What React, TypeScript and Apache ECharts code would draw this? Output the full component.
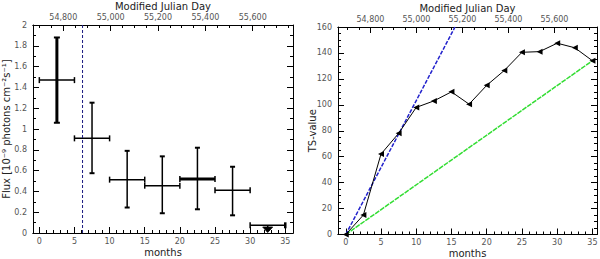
import React, { useEffect, useRef } from "react";
import * as echarts from "echarts";

// ---- Left panel: flux light curve (months) ----
const binStart = [0, 5, 10, 15, 20, 25];
const binEnd = [5, 10, 15, 20, 25, 30];
const flux = [1.47, 0.91, 0.513, 0.455, 0.52, 0.41];
const fluxLow = [1.06, 0.575, 0.245, 0.19, 0.228, 0.17];
const fluxHigh = [1.88, 1.253, 0.79, 0.737, 0.82, 0.637];
const ulStart = [30];
const ulEnd = [35];
const ulValue = [0.074];
const markerMonth = [6.15];

// ---- Right panel: cumulative TS ----
const tsMonths = [0, 2.5, 5, 7.5, 10, 12.5, 15, 17.5, 20, 22.5, 25, 27.5, 30, 32.5, 35];
const tsValues = [0, 15, 62, 78, 98, 103, 110, 100.5, 115, 126.5, 140.5, 141, 147.5, 144, 134];
const blueFitMonths = [0, 15.5];
const blueFitTs = [0, 160];
const greenFitMonths = [0, 35];
const greenFitTs = [0, 134];

// ---- Axis tick labels ----
const monthTicks = [0, 5, 10, 15, 20, 25, 30, 35];
const mjdTicks = [54800, 55000, 55200, 55400, 55600];

// styles (not data)
const vBarWidths = [3, 1.5, 1.5, 1.5, 1.5, 1.5];
const hBarWidths = [1.5, 1.5, 1.5, 1.5, 3, 1.5];

const FONT = "DejaVu Sans";
const LABEL = { color: "#555", fontSize: 8, fontFamily: FONT };
const NAME = { color: "#222", fontSize: 10, fontFamily: FONT };
const LINE = { show: true, onZero: false, lineStyle: { color: "#000", width: 1 } };

const range = (a: number, b: number, s: number) => {
  const out: number[] = [];
  for (let v = a; v <= b + 1e-9; v += s) out.push(v);
  return out;
};
const fmtMjd = (v: number) => {
  const s = String(Math.round(v));
  return s.slice(0, s.length - 3) + "," + s.slice(s.length - 3);
};

function xAxesFor(grid: number, min: number, max: number, mjdMin: number, mjdMax: number) {
  return [
    {
      type: "value", gridIndex: grid, position: "bottom", min, max,
      name: "months", nameLocation: "middle", nameGap: 14, nameTextStyle: NAME, nameMoveOverlap: false,
      axisLine: LINE,
      axisTick: { inside: true, length: 6, customValues: monthTicks, lineStyle: { color: "#000" } },
      axisLabel: { ...LABEL, margin: 4, customValues: monthTicks },
      splitLine: { show: false },
    },
    {
      type: "value", gridIndex: grid, position: "bottom", min, max,
      axisLine: LINE,
      axisTick: { inside: true, length: 3, customValues: range(0, 35, 1), lineStyle: { color: "#000" } },
      axisLabel: { show: false, customValues: [] },
      splitLine: { show: false },
    },
    {
      type: "value", gridIndex: grid, position: "top", min: mjdMin, max: mjdMax,
      name: "Modified Julian Day", nameLocation: "middle", nameGap: 14, nameTextStyle: NAME, nameMoveOverlap: false,
      axisLine: LINE,
      axisTick: { inside: true, length: 6, customValues: mjdTicks, lineStyle: { color: "#000" } },
      axisLabel: { ...LABEL, margin: 4, customValues: mjdTicks, formatter: fmtMjd },
      splitLine: { show: false },
    },
    {
      type: "value", gridIndex: grid, position: "top", min: mjdMin, max: mjdMax,
      axisLine: LINE,
      axisTick: { inside: true, length: 3, customValues: range(54700, 55750, 50), lineStyle: { color: "#000" } },
      axisLabel: { show: false, customValues: [] },
      splitLine: { show: false },
    },
  ];
}

function yAxesFor(grid: number, max: number, interval: number, minorSplit: number, name: string, gap: number) {
  const common = {
    type: "value", gridIndex: grid, min: 0, max, interval,
    axisLine: LINE,
    axisTick: { inside: true, length: 6, lineStyle: { color: "#000" } },
    minorTick: { show: true, splitNumber: minorSplit, length: 3, lineStyle: { color: "#000" } },
    splitLine: { show: false },
    minorSplitLine: { show: false },
  };
  return [
    {
      ...common, position: "left",
      name, nameLocation: "middle", nameGap: gap, nameTextStyle: NAME, nameMoveOverlap: false,
      axisLabel: { ...LABEL, margin: 6 },
    },
    { ...common, position: "right", axisLabel: { show: false } },
  ];
}

export default function App() {
  const ref = useRef<HTMLDivElement>(null);
  useEffect(() => {
    if (!ref.current) return;
    const chart = echarts.init(ref.current, undefined, { renderer: "svg" });

    const errorBars = {
      type: "custom",
      xAxisIndex: 0,
      yAxisIndex: 0,
      clip: false,
      data: binStart.map((s, i) => [s, binEnd[i], flux[i], fluxLow[i], fluxHigh[i]]),
      renderItem: (params: any, api: any) => {
        const i = params.dataIndex;
        const s = api.value(0), e = api.value(1), y = api.value(2), lo = api.value(3), hi = api.value(4);
        const mid = (s + e) / 2;
        const pL = api.coord([s, y]);
        const pR = api.coord([e, y]);
        const pLo = api.coord([mid, lo]);
        const pHi = api.coord([mid, hi]);
        const vw = vBarWidths[i];
        const hw = hBarWidths[i];
        const st = (w: number) => ({ stroke: "#000", lineWidth: w, fill: "none" });
        const capW = vw > 2 ? 3 : 2.5;
        return {
          type: "group",
          children: [
            { type: "line", shape: { x1: pL[0], y1: pL[1], x2: pR[0], y2: pR[1] }, style: st(hw) },
            { type: "line", shape: { x1: pL[0], y1: pL[1] - 3, x2: pL[0], y2: pL[1] + 3 }, style: st(1.5) },
            { type: "line", shape: { x1: pR[0], y1: pR[1] - 3, x2: pR[0], y2: pR[1] + 3 }, style: st(1.5) },
            { type: "line", shape: { x1: pLo[0], y1: pLo[1], x2: pHi[0], y2: pHi[1] }, style: st(vw) },
            { type: "line", shape: { x1: pHi[0] - capW, y1: pHi[1], x2: pHi[0] + capW, y2: pHi[1] }, style: st(2) },
            { type: "line", shape: { x1: pLo[0] - capW, y1: pLo[1], x2: pLo[0] + capW, y2: pLo[1] }, style: st(2) },
          ],
        };
      },
    };

    const upperLimits = {
      type: "custom",
      xAxisIndex: 0,
      yAxisIndex: 0,
      clip: false,
      data: ulStart.map((s, i) => [s, ulEnd[i], ulValue[i]]),
      renderItem: (params: any, api: any) => {
        const s = api.value(0), e = api.value(1), y = api.value(2);
        const mid = (s + e) / 2;
        const pL = api.coord([s, y]);
        const pR = api.coord([e, y]);
        const pBase = api.coord([mid, 0]);
        const st = (w: number) => ({ stroke: "#000", lineWidth: w, fill: "none" });
        const triTop = pBase[1] - 6;
        return {
          type: "group",
          children: [
            { type: "line", shape: { x1: pL[0], y1: pL[1], x2: pR[0], y2: pR[1] }, style: st(1.5) },
            { type: "line", shape: { x1: pL[0], y1: pL[1] - 3, x2: pL[0], y2: pL[1] + 3 }, style: st(1.5) },
            { type: "line", shape: { x1: pR[0], y1: pR[1] - 3, x2: pR[0], y2: pR[1] + 3 }, style: st(2.5) },
            { type: "line", shape: { x1: pBase[0], y1: pL[1], x2: pBase[0], y2: triTop }, style: st(1.5) },
            {
              type: "polygon",
              shape: { points: [[pBase[0] - 5, triTop], [pBase[0] + 5, triTop], [pBase[0], pBase[1] - 0.5]] },
              style: { fill: "#000", stroke: "#000", lineWidth: 0.8 },
              z2: 10,
            },
          ],
        };
      },
    };

    const option: any = {
      animation: false,
      backgroundColor: "#fff",
      textStyle: { fontFamily: FONT },
      grid: [
        { left: 33, top: 25, width: 260, height: 208, outerBoundsMode: "none", containLabel: false },
        { left: 338, top: 27, width: 259, height: 207.5, outerBoundsMode: "none", containLabel: false },
      ],
      xAxis: [
        ...xAxesFor(0, -0.9, 36.1, 54672, 55770),
        ...xAxesFor(1, -1.1, 35.65, 54659, 55785),
      ],
      yAxis: [
        ...yAxesFor(0, 2, 0.2, 2, "Flux [10⁻⁹ photons cm⁻²s⁻¹]", 22),
        ...yAxesFor(1, 160, 20, 4, "TS-value", 21),
      ],
      series: [
        errorBars,
        upperLimits,
        {
          type: "line",
          xAxisIndex: 0,
          yAxisIndex: 0,
          symbol: "none",
          data: [[markerMonth[0], 0], [markerMonth[0], 2]],
          lineStyle: { color: "#1a1a80", width: 1, type: [3, 2] },
        },
        {
          type: "line",
          xAxisIndex: 4,
          yAxisIndex: 2,
          symbol: "none",
          data: blueFitMonths.map((m, i) => [m, blueFitTs[i]]),
          lineStyle: { color: "#2222cc", width: 1.5, type: [4, 1.5] },
        },
        {
          type: "line",
          xAxisIndex: 4,
          yAxisIndex: 2,
          symbol: "none",
          data: greenFitMonths.map((m, i) => [m, greenFitTs[i]]),
          lineStyle: { color: "#33dd33", width: 1.5, type: [5, 1] },
        },
        {
          type: "line",
          xAxisIndex: 4,
          yAxisIndex: 2,
          symbol: "triangle",
          symbolRotate: 90,
          symbolSize: 6,
          data: tsMonths.map((m, i) => [m, tsValues[i]]),
          itemStyle: { color: "#000" },
          lineStyle: { color: "#000", width: 1 },
        },
      ],
    };
    chart.setOption(option);
    return () => chart.dispose();
  }, []);

  return (
    <div
      ref={ref}
      style={{ position: "fixed", left: 0, top: 0, width: 600, height: 259, background: "#fff" }}
    />
  );
}
